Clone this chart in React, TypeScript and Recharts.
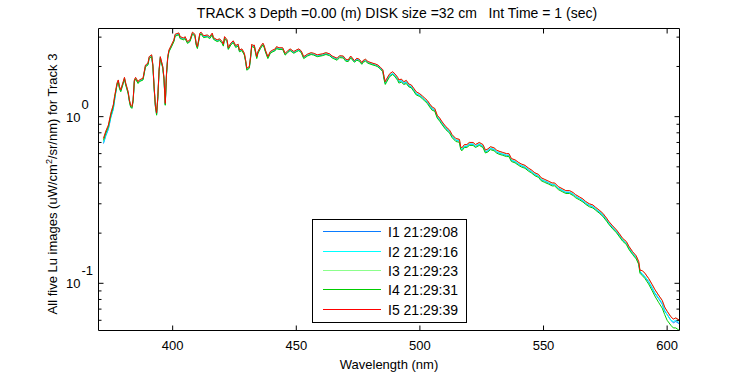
import { LineChart, Line, XAxis, YAxis } from 'recharts';

// wavelength (nm) of each sample, shared by the five scans
const wavelengths = [
  372, 373, 374, 375, 376, 376.5,
  377.5, 378, 378.5, 379, 380, 380.5, 381, 382, 382.5, 383,
  383.5, 384, 384.5, 385, 386, 386.5, 388, 389, 390, 390.5,
  391.5, 392, 392.5, 393, 393.5, 394, 394.5, 395, 396, 396.5,
  397, 397.5, 398, 398.5, 399.5, 400.5, 401, 402.5, 403, 404.5,
  405, 406, 407, 408, 409, 409.5, 410, 411, 411.5, 412.5,
  414, 415, 416, 416.5, 418, 419, 420, 420.5, 421, 422,
  422.5, 423.5, 424.5, 425.5, 426.5, 427, 428, 429, 429.5, 430,
  431, 431.5, 432, 432.5, 433, 434, 434.5, 435.5, 436.5, 437,
  437.5, 438.5, 439.5, 440.5, 441.5, 442, 443, 444.5, 445.5, 446.5,
  447.5, 449, 450, 451, 452, 453, 454.5, 456, 457, 458.5,
  460.5, 462, 463.5, 464.5, 466.5, 467.5, 469, 470, 471, 472,
  473.5, 474.5, 475.5, 476.5, 477, 478, 479, 481, 482, 483,
  484, 485,
  485.5, 486, 486.5, 487.5, 488, 489, 490, 491, 491.5, 492.5,
  493.5, 494.5, 495.5, 496.5, 497.5, 498.5, 500, 501, 502, 503,
  504, 505, 506, 507, 508, 509, 510.5, 512, 513, 514.5,
  516, 516.5, 517, 518, 519, 520, 521.5, 522.5, 524, 525.5,
  526.5, 527.5, 528.5, 530, 531, 532, 533.5, 535, 536, 537,
  538.5, 540, 541, 542.5, 544, 545, 546.5, 548, 549, 550.5,
  552, 553.5, 554.5, 556, 557.5, 559, 560.5, 562, 563, 564.5,
  566, 567, 568.5, 570, 571, 572.5, 574, 575.5, 576.5, 578,
  579.5, 580.5, 582, 583.5, 584.5, 586, 587.5, 588.5, 589,
  590, 591, 592.5, 594, 595, 596.5, 598, 599, 600, 601.5,
  602.5, 603.5, 605,
];

// I1 (blue)
const lu1 = [
  0.69, 0.77, 0.84, 0.99, 1.11, 1.25,
  1.57, 1.64, 1.49, 1.43, 1.60, 1.69, 1.57, 1.39, 1.24, 1.15,
  1.13, 1.24, 1.64, 1.69, 1.60, 1.64, 1.67, 2.01, 2.06, 2.26,
  2.31, 2.01, 1.49, 1.16, 1.03, 1.30, 1.88, 2.26, 1.97, 1.67,
  1.18, 1.79, 2.26, 2.47, 2.65, 2.85, 3.07, 3.13, 2.97, 2.92,
  2.97, 2.78, 2.85, 3.16, 3.07, 2.72, 2.59, 3.12, 3.16, 3.01,
  3.04, 2.97, 3.12, 2.94, 2.85, 2.89, 2.78, 2.68, 2.97, 2.85,
  2.55, 2.72, 2.81, 2.63, 2.68, 2.47, 2.51, 2.36, 2.16, 1.92,
  1.97, 2.26, 2.68, 2.63, 2.65, 2.26, 2.42, 2.59, 2.72, 2.63,
  2.47, 2.26, 2.42, 2.47, 2.51, 2.59, 2.55, 2.55, 2.36, 2.44,
  2.51, 2.42, 2.47, 2.51, 2.44, 2.26, 2.33, 2.38, 2.36, 2.31,
  2.34, 2.38, 2.34, 2.28, 2.21, 2.29, 2.28, 2.18, 2.16, 2.28,
  2.14, 2.21, 2.18, 2.08, 2.14, 2.18, 2.11, 2.06, 2.04, 2.01,
  1.95, 1.88,
  1.70, 1.58, 1.64, 1.74, 1.77, 1.81, 1.76, 1.68, 1.62, 1.64,
  1.58, 1.61, 1.53, 1.51, 1.44, 1.37, 1.34, 1.30, 1.26, 1.22,
  1.16, 1.11, 1.09, 0.995, 0.955, 0.907, 0.848, 0.809, 0.761, 0.722,
  0.712, 0.644, 0.634, 0.663, 0.663, 0.683, 0.683, 0.663, 0.683, 0.663,
  0.614, 0.624, 0.644, 0.634, 0.614, 0.605, 0.595, 0.585, 0.585, 0.546,
  0.536, 0.517, 0.507, 0.497, 0.478, 0.468, 0.449, 0.439, 0.419, 0.410,
  0.400, 0.390, 0.390, 0.371, 0.361, 0.351, 0.351, 0.341, 0.332, 0.322,
  0.312, 0.302, 0.293, 0.288, 0.279, 0.268, 0.256, 0.240, 0.228, 0.215,
  0.204, 0.195, 0.181, 0.174, 0.163, 0.151, 0.142, 0.132, 0.117,
  0.113, 0.109, 0.102, 0.093, 0.087, 0.081, 0.075, 0.068, 0.065, 0.060,
  0.058, 0.059, 0.057,
];

// I2 (cyan)
const lu2 = [
  0.70, 0.78, 0.85, 1.00, 1.12, 1.26,
  1.57, 1.64, 1.49, 1.44, 1.60, 1.70, 1.57, 1.40, 1.25, 1.16,
  1.14, 1.25, 1.64, 1.70, 1.60, 1.64, 1.68, 2.02, 2.07, 2.27,
  2.33, 2.02, 1.49, 1.17, 1.04, 1.31, 1.89, 2.27, 1.98, 1.68,
  1.19, 1.80, 2.27, 2.48, 2.66, 2.86, 3.09, 3.15, 2.99, 2.93,
  2.99, 2.79, 2.86, 3.18, 3.09, 2.73, 2.60, 3.14, 3.18, 3.03,
  3.06, 2.99, 3.14, 2.95, 2.86, 2.90, 2.79, 2.69, 2.99, 2.86,
  2.56, 2.73, 2.82, 2.64, 2.69, 2.48, 2.52, 2.38, 2.17, 1.93,
  1.98, 2.27, 2.69, 2.64, 2.66, 2.27, 2.44, 2.60, 2.73, 2.64,
  2.48, 2.27, 2.44, 2.48, 2.52, 2.60, 2.56, 2.56, 2.38, 2.46,
  2.52, 2.44, 2.48, 2.52, 2.46, 2.27, 2.35, 2.40, 2.38, 2.33,
  2.36, 2.40, 2.36, 2.29, 2.22, 2.30, 2.29, 2.19, 2.17, 2.29,
  2.15, 2.22, 2.19, 2.09, 2.15, 2.19, 2.12, 2.07, 2.05, 2.02,
  1.96, 1.89,
  1.71, 1.59, 1.65, 1.74, 1.78, 1.82, 1.76, 1.69, 1.63, 1.65,
  1.59, 1.62, 1.54, 1.52, 1.45, 1.38, 1.34, 1.30, 1.26, 1.23,
  1.17, 1.12, 1.10, 1.00, 0.96, 0.911, 0.853, 0.813, 0.764, 0.725,
  0.715, 0.647, 0.637, 0.666, 0.666, 0.686, 0.686, 0.666, 0.686, 0.666,
  0.617, 0.627, 0.647, 0.637, 0.617, 0.608, 0.598, 0.588, 0.588, 0.549,
  0.539, 0.519, 0.510, 0.500, 0.480, 0.470, 0.451, 0.441, 0.421, 0.412,
  0.402, 0.392, 0.392, 0.372, 0.363, 0.353, 0.353, 0.343, 0.333, 0.323,
  0.314, 0.304, 0.294, 0.289, 0.280, 0.270, 0.258, 0.241, 0.229, 0.217,
  0.205, 0.196, 0.182, 0.174, 0.164, 0.152, 0.143, 0.132, 0.118,
  0.114, 0.110, 0.103, 0.094, 0.088, 0.082, 0.076, 0.069, 0.065, 0.060,
  0.059, 0.060, 0.058,
];

// I3 (light green) - sits under I5 almost everywhere
const lu3 = [
  0.74, 0.82, 0.89, 1.05, 1.18, 1.32,
  1.59, 1.66, 1.51, 1.45, 1.62, 1.72, 1.59, 1.41, 1.26, 1.17,
  1.15, 1.26, 1.66, 1.72, 1.62, 1.66, 1.70, 2.04, 2.09, 2.29,
  2.35, 2.04, 1.51, 1.18, 1.05, 1.32, 1.91, 2.29, 2.00, 1.70,
  1.20, 1.82, 2.29, 2.51, 2.69, 2.89, 3.12, 3.18, 3.02, 2.96,
  3.02, 2.82, 2.89, 3.21, 3.12, 2.76, 2.63, 3.17, 3.21, 3.06,
  3.09, 3.02, 3.17, 2.98, 2.89, 2.93, 2.82, 2.72, 3.02, 2.89,
  2.59, 2.76, 2.85, 2.67, 2.72, 2.51, 2.55, 2.40, 2.19, 1.95,
  2.00, 2.29, 2.72, 2.67, 2.69, 2.29, 2.46, 2.63, 2.76, 2.67,
  2.51, 2.29, 2.46, 2.51, 2.55, 2.63, 2.59, 2.59, 2.40, 2.48,
  2.55, 2.46, 2.51, 2.55, 2.48, 2.29, 2.37, 2.42, 2.40, 2.35,
  2.38, 2.42, 2.38, 2.31, 2.24, 2.32, 2.31, 2.21, 2.19, 2.31,
  2.17, 2.24, 2.21, 2.11, 2.17, 2.21, 2.14, 2.09, 2.07, 2.04,
  1.98, 1.91,
  1.74, 1.62, 1.68, 1.78, 1.82, 1.86, 1.80, 1.72, 1.66, 1.68,
  1.62, 1.65, 1.57, 1.55, 1.48, 1.41, 1.37, 1.33, 1.29, 1.25,
  1.19, 1.14, 1.12, 1.02, 0.98, 0.93, 0.87, 0.83, 0.78, 0.74,
  0.73, 0.66, 0.65, 0.68, 0.68, 0.70, 0.70, 0.68, 0.70, 0.68,
  0.63, 0.64, 0.66, 0.65, 0.63, 0.62, 0.61, 0.60, 0.60, 0.56,
  0.55, 0.53, 0.52, 0.51, 0.49, 0.48, 0.46, 0.45, 0.43, 0.42,
  0.41, 0.40, 0.40, 0.38, 0.37, 0.36, 0.36, 0.35, 0.34, 0.33,
  0.32, 0.31, 0.30, 0.295, 0.286, 0.275, 0.263, 0.246, 0.234, 0.221,
  0.209, 0.200, 0.186, 0.178, 0.167, 0.155, 0.146, 0.135, 0.120,
  0.119, 0.115, 0.107, 0.098, 0.092, 0.085, 0.079, 0.072, 0.068, 0.063,
  0.061, 0.062, 0.060,
];

// I4 (green) - lowest trace
const lu4 = [
  0.72, 0.80, 0.87, 1.02, 1.15, 1.29,
  1.55, 1.62, 1.47, 1.41, 1.58, 1.68, 1.55, 1.37, 1.23, 1.14,
  1.12, 1.23, 1.62, 1.68, 1.58, 1.62, 1.66, 1.99, 2.04, 2.23,
  2.29, 1.99, 1.47, 1.15, 1.02, 1.29, 1.86, 2.23, 1.95, 1.66,
  1.17, 1.77, 2.23, 2.45, 2.62, 2.82, 3.04, 3.10, 2.94, 2.89,
  2.94, 2.75, 2.82, 3.13, 3.04, 2.69, 2.56, 3.09, 3.13, 2.98,
  3.01, 2.94, 3.09, 2.91, 2.82, 2.86, 2.75, 2.65, 2.94, 2.82,
  2.53, 2.69, 2.78, 2.60, 2.65, 2.45, 2.49, 2.34, 2.14, 1.90,
  1.95, 2.23, 2.65, 2.60, 2.62, 2.23, 2.40, 2.56, 2.69, 2.60,
  2.45, 2.23, 2.40, 2.45, 2.49, 2.56, 2.53, 2.53, 2.34, 2.42,
  2.49, 2.40, 2.45, 2.49, 2.42, 2.23, 2.31, 2.36, 2.34, 2.29,
  2.32, 2.36, 2.32, 2.25, 2.18, 2.26, 2.25, 2.15, 2.14, 2.25,
  2.12, 2.18, 2.15, 2.06, 2.12, 2.15, 2.09, 2.04, 2.02, 1.99,
  1.93, 1.86,
  1.67, 1.56, 1.61, 1.71, 1.75, 1.79, 1.73, 1.65, 1.59, 1.61,
  1.56, 1.58, 1.51, 1.49, 1.42, 1.35, 1.32, 1.28, 1.24, 1.20,
  1.14, 1.09, 1.08, 0.98, 0.94, 0.893, 0.835, 0.797, 0.749, 0.710,
  0.701, 0.634, 0.624, 0.653, 0.653, 0.672, 0.672, 0.653, 0.672, 0.653,
  0.605, 0.614, 0.634, 0.624, 0.605, 0.595, 0.586, 0.576, 0.576, 0.538,
  0.528, 0.509, 0.499, 0.490, 0.470, 0.461, 0.442, 0.432, 0.413, 0.403,
  0.394, 0.384, 0.384, 0.365, 0.355, 0.346, 0.346, 0.336, 0.326, 0.317,
  0.307, 0.298, 0.288, 0.283, 0.275, 0.264, 0.252, 0.236, 0.225, 0.212,
  0.201, 0.192, 0.179, 0.171, 0.160, 0.149, 0.140, 0.130, 0.115,
  0.111, 0.107, 0.099, 0.090, 0.084, 0.077, 0.071, 0.065, 0.060, 0.056,
  0.054, 0.054, 0.052,
];

// I5 (red) - top trace
const lu5 = [
  0.74, 0.82, 0.89, 1.05, 1.18, 1.32,
  1.59, 1.66, 1.51, 1.45, 1.62, 1.72, 1.59, 1.41, 1.26, 1.17,
  1.15, 1.26, 1.66, 1.72, 1.62, 1.66, 1.70, 2.04, 2.09, 2.29,
  2.35, 2.04, 1.51, 1.18, 1.05, 1.32, 1.91, 2.29, 2.00, 1.70,
  1.20, 1.82, 2.29, 2.51, 2.69, 2.89, 3.12, 3.18, 3.02, 2.96,
  3.02, 2.82, 2.89, 3.21, 3.12, 2.76, 2.63, 3.17, 3.21, 3.06,
  3.09, 3.02, 3.17, 2.98, 2.89, 2.93, 2.82, 2.72, 3.02, 2.89,
  2.59, 2.76, 2.85, 2.67, 2.72, 2.51, 2.55, 2.40, 2.19, 1.95,
  2.00, 2.29, 2.72, 2.67, 2.69, 2.29, 2.46, 2.63, 2.76, 2.67,
  2.51, 2.29, 2.46, 2.51, 2.55, 2.63, 2.59, 2.59, 2.40, 2.48,
  2.55, 2.46, 2.51, 2.55, 2.48, 2.29, 2.37, 2.42, 2.40, 2.35,
  2.38, 2.42, 2.38, 2.31, 2.24, 2.32, 2.31, 2.21, 2.19, 2.31,
  2.17, 2.24, 2.21, 2.11, 2.17, 2.21, 2.14, 2.09, 2.07, 2.04,
  1.98, 1.91,
  1.74, 1.62, 1.68, 1.78, 1.82, 1.86, 1.80, 1.72, 1.66, 1.68,
  1.62, 1.65, 1.57, 1.55, 1.48, 1.41, 1.37, 1.33, 1.29, 1.25,
  1.19, 1.14, 1.12, 1.02, 0.98, 0.93, 0.87, 0.83, 0.78, 0.74,
  0.73, 0.66, 0.65, 0.68, 0.68, 0.70, 0.70, 0.68, 0.70, 0.68,
  0.63, 0.64, 0.66, 0.65, 0.63, 0.62, 0.61, 0.60, 0.60, 0.56,
  0.55, 0.53, 0.52, 0.51, 0.49, 0.48, 0.46, 0.45, 0.43, 0.42,
  0.41, 0.40, 0.40, 0.38, 0.37, 0.36, 0.36, 0.35, 0.34, 0.33,
  0.32, 0.31, 0.30, 0.295, 0.286, 0.275, 0.263, 0.246, 0.234, 0.221,
  0.209, 0.200, 0.186, 0.178, 0.167, 0.155, 0.146, 0.135, 0.120,
  0.119, 0.115, 0.107, 0.098, 0.092, 0.085, 0.079, 0.072, 0.068, 0.063,
  0.061, 0.062, 0.060,
];

const seriesKeys = ['lu1', 'lu2', 'lu3', 'lu4', 'lu5'];
const seriesNames = ['I1 21:29:08', 'I2 21:29:16', 'I3 21:29:23', 'I4 21:29:31', 'I5 21:29:39'];
const seriesColors = ['#0a7cff', '#00ffff', '#8cff8c', '#00cc00', '#ff0000'];

const xTicks = [400, 450, 500, 550, 600];
const yTicks = [0.06, 0.07, 0.08, 0.09, 0.1, 0.2, 0.3, 0.4, 0.5, 0.6, 0.7, 0.8, 0.9, 1, 2, 3];
const yLabelled = [0.1, 1];

const xDomain = [370, 605];
const yDomain = [0.0521, 3.38];

const font = '"Liberation Sans", Arial, Helvetica, sans-serif';

const data = wavelengths.map((wl, i) => ({
  wl,
  lu1: lu1[i],
  lu2: lu2[i],
  lu3: lu3[i],
  lu4: lu4[i],
  lu5: lu5[i],
}));

function LeftTick(props: any) {
  const { x, y, payload } = props;
  const v = payload.value;
  const major = yLabelled.includes(v);
  const exp = Math.round(Math.log10(v));
  return (
    <g>
      <line x1={x} x2={x + (major ? 5 : 3)} y1={y} y2={y} stroke='#000' />
      {major && (
        <text x={x - 18} y={y + 5} textAnchor='end' fontSize={13} fontFamily={font} fill='#000'>
          10
        </text>
      )}
      {major && (
        <text x={x - 17} y={y - 8} textAnchor='start' fontSize={13} fontFamily={font} fill='#000'>
          {exp}
        </text>
      )}
    </g>
  );
}

function RightTick(props: any) {
  const { x, y, payload } = props;
  const major = yLabelled.includes(payload.value);
  return <line x1={x} x2={x - (major ? 5 : 3)} y1={y} y2={y} stroke='#000' />;
}

function BottomTick(props: any) {
  const { x, y, payload } = props;
  return (
    <g>
      <line x1={x} x2={x} y1={y} y2={y - 5} stroke='#000' />
      <text x={x} y={y + 19} textAnchor='middle' fontSize={13} fontFamily={font} fill='#000'>
        {payload.value}
      </text>
    </g>
  );
}

function TopTick(props: any) {
  const { x, y } = props;
  return <line x1={x} x2={x} y1={y} y2={y + 5} stroke='#000' />;
}

export default function App() {
  return (
    <div style={{ position: 'absolute', left: 0, top: 0, width: 750, height: 375, background: '#fff' }}>
      <LineChart
        width={750}
        height={375}
        data={data}
        margin={{ top: 27.5, right: 69.5, bottom: 43.5, left: 97.5 }}
      >
        <XAxis
          xAxisId='bottom'
          dataKey='wl'
          type='number'
          domain={xDomain}
          ticks={xTicks}
          interval={0}
          allowDataOverflow
          height={1}
          tickSize={0}
          tickMargin={0}
          tickLine={false}
          axisLine={{ stroke: '#000' }}
          tick={(p: any) => <BottomTick {...p} />}
        />
        <XAxis
          xAxisId='top'
          orientation='top'
          dataKey='wl'
          type='number'
          domain={xDomain}
          ticks={xTicks}
          interval={0}
          allowDataOverflow
          height={1}
          tickSize={0}
          tickMargin={0}
          tickLine={false}
          axisLine={{ stroke: '#000' }}
          tick={(p: any) => <TopTick {...p} />}
        />
        <YAxis
          yAxisId='left'
          scale='log'
          type='number'
          domain={yDomain}
          ticks={yTicks}
          interval={0}
          allowDataOverflow
          width={1}
          tickSize={0}
          tickMargin={0}
          tickLine={false}
          axisLine={{ stroke: '#000' }}
          tick={(p: any) => <LeftTick {...p} />}
        />
        <YAxis
          yAxisId='right'
          orientation='right'
          scale='log'
          type='number'
          domain={yDomain}
          ticks={yTicks}
          interval={0}
          allowDataOverflow
          width={1}
          tickSize={0}
          tickMargin={0}
          tickLine={false}
          axisLine={{ stroke: '#000' }}
          tick={(p: any) => <RightTick {...p} />}
        />
        {seriesKeys.map((key, i) => (
          <Line
            key={key}
            xAxisId='bottom'
            yAxisId='left'
            dataKey={key}
            name={seriesNames[i]}
            type='linear'
            stroke={seriesColors[i]}
            strokeWidth={1}
            dot={false}
            isAnimationActive={false}
          />
        ))}
      </LineChart>
      <svg
        width={750}
        height={375}
        style={{ position: 'absolute', left: 0, top: 0, pointerEvents: 'none' }}
        fontFamily={font}
        fontSize={13}
      >
        <text x={397} y={18} textAnchor='middle' fontSize={14} style={{ whiteSpace: 'pre' }}>
          {'TRACK 3 Depth =0.00 (m) DISK size =32 cm   Int Time = 1 (sec)'}
        </text>
        <text x={389} y={369} textAnchor='middle'>
          Wavelength (nm)
        </text>
        <text transform='rotate(-90)' x={-184} y={57} textAnchor='middle'>
          All five Lu images (uW/cm
          <tspan dy={-5} fontSize={9}>
            2
          </tspan>
          <tspan dy={5}>/sr/nm) for Track 3</tspan>
        </text>
        <rect x={312.5} y={219.5} width={154} height={103} fill='#fff' stroke='#000' />
        {seriesNames.map((name, i) => {
          const rowY = [231.5, 251.5, 270.5, 289.5, 309.5][i];
          return (
            <g key={name}>
              <line x1={323} x2={381} y1={rowY} y2={rowY} stroke={seriesColors[i]} />
              <text x={388} y={rowY + 5} fontSize={14}>
                {name}
              </text>
            </g>
          );
        })}
      </svg>
    </div>
  );
}
